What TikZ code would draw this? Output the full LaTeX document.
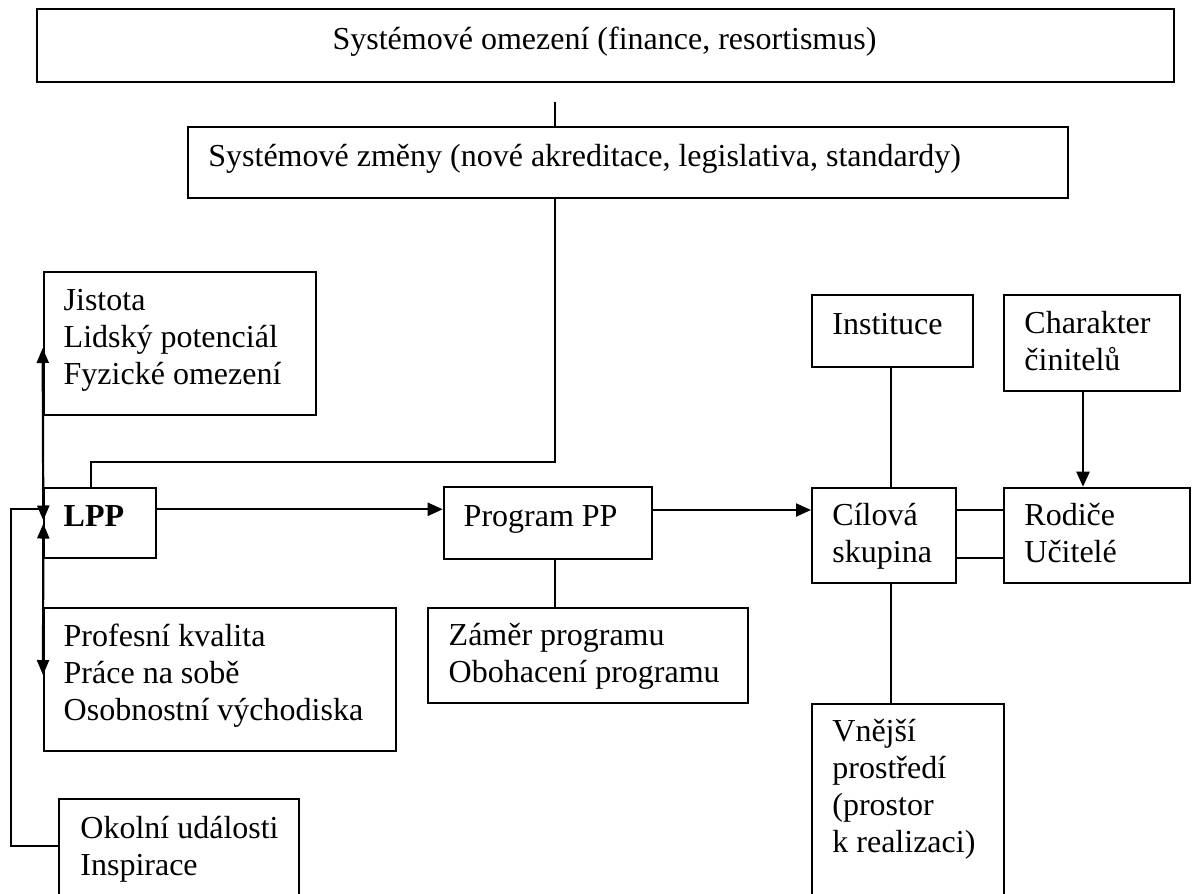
\documentclass[tikz,border=0pt]{standalone}
\usepackage{fontspec}
\setmainfont{Liberation Serif}
\usetikzlibrary{arrows.meta}
\begin{document}
\begin{tikzpicture}[x=0.5pt,y=-0.5pt,
  box/.style={draw, line width=1pt, inner sep=0pt, anchor=north west},
  txt/.style={anchor=base west, inner sep=0pt, font=\fontsize{16pt}{18.5pt}\selectfont},
  ln/.style={line width=0.85pt},
  thinln/.style={line width=0.6pt},
  arr/.style={line width=1.1pt, -{Triangle[length=7.5pt,width=6.5pt]}},
  darr/.style={line width=1.1pt, {Triangle[length=7.5pt,width=6pt]}-{Triangle[length=7.5pt,width=6pt]}}]
\useasboundingbox (0,0) rectangle (1192,893);
\clip (0,0) rectangle (1192,893);

% boxes
\node[box, minimum width=568.5pt, minimum height=36.2pt] (top) at (36,8.3) {};
\node[box, minimum width=440.15pt, minimum height=35.75pt] (sz) at (186.7,126) {};
\node[box, minimum width=136.15pt, minimum height=71.65pt] (jis) at (42.7,270.7) {};
\node[box, minimum width=55.85pt, minimum height=35.15pt] (lpp) at (43.3,486.7) {};
\node[box, minimum width=104.15pt, minimum height=36pt] (prog) at (442.7,486) {};
\node[box, minimum width=160.15pt, minimum height=47.65pt] (zam) at (426.7,606.7) {};
\node[box, minimum width=176pt, minimum height=71.65pt] (prof) at (43,606.7) {};
\node[box, minimum width=120pt, minimum height=56pt] (oko) at (58.3,798) {};
\node[box, minimum width=80.35pt, minimum height=36pt] (inst) at (811,294) {};
\node[box, minimum width=88.3pt, minimum height=48pt] (char) at (1002.7,294) {};
\node[box, minimum width=72pt, minimum height=47.65pt] (cil) at (811,486.7) {};
\node[box, minimum width=93.15pt, minimum height=47.65pt] (rod) at (1002.7,486.7) {};
\node[box, minimum width=95.85pt, minimum height=103.65pt] (vne) at (811,702.7) {};

% texts (anchor = baseline of first line)
\node[txt, anchor=base] (topt) at (604.5,50) {Systémové omezení (finance, resortismus)};
\node[txt] (szt) at (208,166.7) {Systémové změny (nové akreditace, legislativa, standardy)};
\node[txt] (jist) at (63.3,310) {\vtop{\hbox{Jistota}\hbox{Lidský potenciál}\hbox{Fyzické omezení}}};
\node[txt, font=\fontsize{16pt}{18.5pt}\selectfont\bfseries] (lppt) at (63.3,526.7) {LPP};
\node[txt] (progt) at (463.3,526.7) {Program PP};
\node[txt] (zamt) at (448.3,645) {\vtop{\hbox{Záměr programu}\hbox{Obohacení programu}}};
\node[txt] (proft) at (63.3,646.7) {\vtop{\hbox{Profesní kvalita}\hbox{Práce na sobě}\hbox{Osobnostní východiska}}};
\node[txt] (okot) at (80,838.3) {\vtop{\hbox{Okolní události}\hbox{Inspirace}}};
\node[txt] (instt) at (832,334.3) {Instituce};
\node[txt] (chart) at (1024,333.3) {\vtop{\hbox{Charakter}\hbox{činitelů}}};
\node[txt] (cilt) at (832,525) {\vtop{\hbox{Cílová}\hbox{skupina}}};
\node[txt] (rodt) at (1024,525) {\vtop{\hbox{Rodiče}\hbox{Učitelé}}};
\node[txt] (vnet) at (832,741.7) {\vtop{\hbox{Vnější}\hbox{prostředí}\hbox{(prostor}\hbox{k realizaci)}}};

% connectors
\coordinate (t1) at (555,101.7);
\draw[thinln] (t1) -- (t1 |- sz.north);
\coordinate (j) at (555,462);
\coordinate (k) at (91,462);
\draw[ln] (sz.south -| j) -- (j) -- (k) -- (k |- lpp.north);
\draw[arr] (lpp.east |- 0,509.3) -- (prog.west |- 0,509.3);
\draw[arr] (prog.east |- 0,510) -- (cil.west |- 0,510);
\draw[ln] (prog.south -| 555,0) -- (zam.north -| 555,0);
\draw[ln] (inst.south -| 891,0) -- (cil.north -| 891,0);
\draw[arr] (char.south -| 1083,0) -- (rod.north -| 1083,0);
\draw[ln] (cil.east |- 0,510) -- (rod.west |- 0,510);
\draw[ln] (cil.east |- 0,557.7) -- (rod.west |- 0,557.7);
\draw[ln] (cil.south -| 891,0) -- (vne.north -| 891,0);
\draw[darr] (lpp.west |- 0,520.5) -- (jis.west |- 0,348);
\draw[darr] (lpp.west |- 0,523.5) -- (prof.west |- 0,675);
\coordinate (bend) at (11,509.3);
\draw[ln] (oko.west |- 0,846) -| (bend) -- (lpp.west |- bend);
\end{tikzpicture}
\end{document}
